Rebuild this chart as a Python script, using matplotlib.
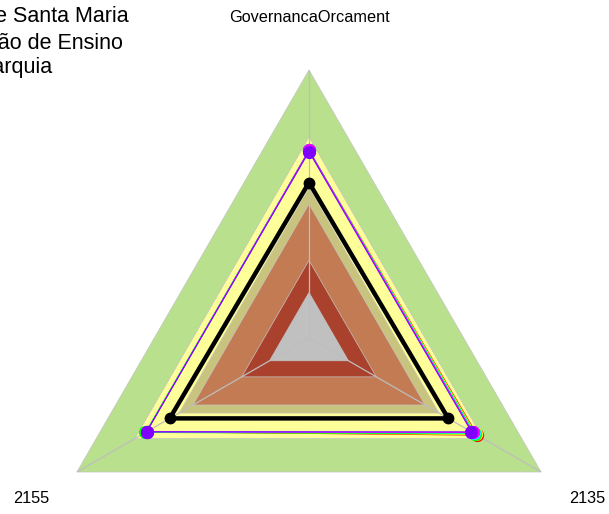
import numpy as np
import matplotlib.pyplot as plt

plt.rcParams['font.family'] = ['Liberation Sans', 'DejaVu Sans']

# eixos do radar (sentido horario a partir do topo)
eixos = ['GovernancaOrcament', '2135', '2155']

# faixas de fundo (raio relativo) e cores
faixas = [1.0, 0.75, 0.56, 0.50, 0.29, 0.17]
cores_faixas = ['#B9E08C', '#FFFF99', '#C9C47D', '#C27B52', '#A9412C', '#C0C0C0']

# series coloridas
serie_vermelha = [0.70, 0.725, 0.70]
serie_amarela = [0.70, 0.72, 0.70]
serie_verde = [0.70, 0.715, 0.705]
serie_ciano = [0.70, 0.71, 0.70]
serie_azul = [0.70, 0.705, 0.70]
serie_magenta = [0.70, 0.705, 0.70]
serie_violeta = [0.695, 0.70, 0.70]
series = [serie_vermelha, serie_amarela, serie_verde, serie_ciano,
          serie_azul, serie_magenta, serie_violeta]
cores_series = ['#FF0000', '#FFFF00', '#00FF00', '#00FFFF',
                '#0080FF', '#FF00FF', '#8000FF']

# serie principal (preta)
serie_preta = [0.58, 0.60, 0.60]

titulo = ['Universidade Federal de Santa Maria', 'Instituição de Ensino', 'Hierarquia']

W, H = 609, 514
cx, cy, R = 309, 338, 268

fig = plt.figure(figsize=(W / 100, H / 100), dpi=100)
ax = fig.add_axes([(cx - R) / W, (H - cy - R) / H, 2 * R / W, 2 * R / H],
                  projection='polar')
ax.set_theta_offset(np.pi / 2)
ax.set_theta_direction(-1)
ax.set_ylim(0, 1)
ax.axis('off')

ang = np.linspace(0, 2 * np.pi, len(eixos), endpoint=False)
ang_f = np.append(ang, ang[0])

# faixas
for nivel, cor in zip(faixas, cores_faixas):
    ax.fill(ang_f, [nivel] * len(ang_f), color=cor, edgecolor='#C4C4C4', lw=0.5)

# raios
for a in ang:
    ax.plot([a, a], [0, 1], color='#BEBEBE', lw=0.9)

# series coloridas
for vals, cor in zip(series, cores_series):
    ax.plot(ang_f, vals + vals[:1], color=cor, lw=0.7)
    ax.plot(ang, vals, 'o', color=cor, ms=8.5)

# serie preta
ax.plot(ang_f, serie_preta + serie_preta[:1], color='black', lw=3.2)
ax.plot(ang, serie_preta, 'o', color='black', ms=7.5)

# rotulos dos eixos
for a, nome in zip(ang, eixos):
    ax.text(a, 1.197, nome, ha='center', va='center', fontsize=11.7)

# titulo (cortado a esquerda)
fim_x = [129, 123, 52]
pos_y = [17, 43, 67]
for txt, x, y in zip(titulo, fim_x, pos_y):
    fig.text(x / W, 1 - y / H, txt, ha='right', va='center', fontsize=15.5)

fig.savefig('out.png', dpi=100)
